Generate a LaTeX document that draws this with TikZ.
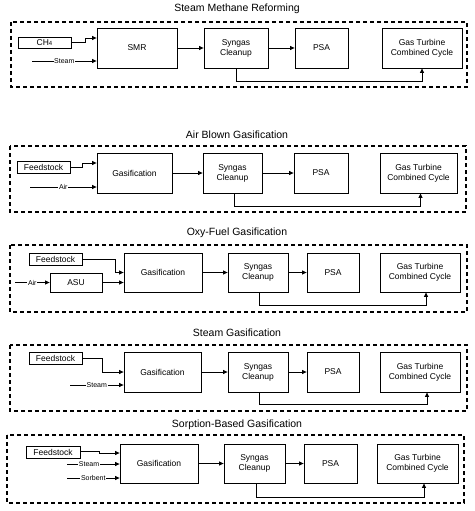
\documentclass[tikz,border=0pt]{standalone}
\usepackage{fontspec}
\setmainfont{Liberation Sans}
\usetikzlibrary{arrows.meta}
\tikzset{
  blk/.style={draw, line width=0.8pt, fill=white, align=center, inner sep=0pt, font=\fontsize{8.5}{10}\selectfont},
  arr/.style={-{Triangle[length=4.5pt,width=4pt]}, line width=0.8pt},
  ln/.style={line width=0.8pt},
  frm/.style={draw, line width=1.4pt, dash pattern=on 4pt off 3pt},
  lbl/.style={fill=white, inner sep=0.6pt, font=\fontsize{7}{7.5}\selectfont},
  ttl/.style={font=\fontsize{10.5}{12}\selectfont, inner sep=0pt}
}
\begin{document}
\begin{tikzpicture}[x=1pt,y=-1pt]
\useasboundingbox (0,0) rectangle (474,511);

% ---------- Panel 1: Steam Methane Reforming ----------
\node[ttl] (t1) at (237,9) {Steam Methane Reforming};
\draw[frm] (11,22) rectangle (467,87);
\node[blk, minimum width=53pt, minimum height=11pt] (ch4) at (44.5,42.5) {CH{\fontsize{6}{7}\selectfont 4}};
\node[blk, minimum width=80pt, minimum height=40pt] (smr) at (137,48) {SMR};
\node[blk, minimum width=64pt, minimum height=40pt] (syn1) at (236,48) {Syngas\\Cleanup};
\node[blk, minimum width=53pt, minimum height=40pt] (psa1) at (321.5,48) {PSA};
\node[blk, minimum width=80pt, minimum height=40pt] (gt1) at (422,48) {Gas Turbine\\Combined Cycle};
\coordinate (s1) at (32,61);
\draw[arr] (ch4.east) -- ++(14,0) |- ([yshift=10pt]smr.west);
\draw[arr] (s1) -- node[lbl]{Steam} (smr.west|-s1);
\draw[arr] (smr) -- (syn1);
\draw[arr] (syn1) -- (psa1);
\draw[arr] (syn1.south) -- ++(0,13) -| (gt1.south);

% ---------- Panel 2: Air Blown Gasification ----------
\node[ttl] (t2) at (237,135) {Air Blown Gasification};
\draw[frm] (10,146) rectangle (466,212);
\node[blk, minimum width=53pt, minimum height=12pt] (feed2) at (43.5,167) {Feedstock};
\node[blk, minimum width=75pt, minimum height=40pt] (gas2) at (134.5,173) {Gasification};
\node[blk, minimum width=59pt, minimum height=40pt] (syn2) at (232.5,173) {Syngas\\Cleanup};
\node[blk, minimum width=54pt, minimum height=40pt] (psa2) at (321,173) {PSA};
\node[blk, minimum width=77pt, minimum height=40pt] (gt2) at (418.5,173) {Gas Turbine\\Combined Cycle};
\coordinate (a2) at (30,187);
\draw[arr] (feed2.east) -- ++(12,0) |- ([yshift=10pt]gas2.west);
\draw[arr] (a2) -- node[lbl]{Air} (gas2.west|-a2);
\draw[arr] (gas2) -- (syn2);
\draw[arr] (syn2) -- (psa2);
\draw[arr] ([xshift=2pt]syn2.south) -- ++(0,13) -| ([xshift=2pt]gt2.south);

% ---------- Panel 3: Oxy-Fuel Gasification ----------
\node[ttl] (t3) at (237,233) {Oxy-Fuel Gasification};
\draw[frm] (10,245) rectangle (467,312);
\node[blk, minimum width=53pt, minimum height=12pt] (feed3) at (55.5,259) {Feedstock};
\node[blk, minimum width=52pt, minimum height=19pt] (asu) at (76,282.5) {ASU};
\node[blk, minimum width=78pt, minimum height=39pt] (gas3) at (163,272.5) {Gasification};
\node[blk, minimum width=60pt, minimum height=39pt] (syn3) at (258,272.5) {Syngas\\Cleanup};
\node[blk, minimum width=52pt, minimum height=39pt] (psa3) at (333,272.5) {PSA};
\node[blk, minimum width=80pt, minimum height=39pt] (gt3) at (420,272.5) {Gas Turbine\\Combined Cycle};
\coordinate (a3) at (15,282.5);
\draw[arr] (feed3.east) -- ++(33,0) |- (gas3.west);
\draw[arr] (a3) -- node[lbl]{Air} (asu.west);
\draw[arr] (asu.east) -- (gas3.west|-asu.east);
\draw[arr] (gas3) -- (syn3);
\draw[arr] (syn3) -- (psa3);
\draw[arr] ([xshift=1pt]syn3.south) -- ++(0,13) -| ([xshift=6pt]gt3.south);

% ---------- Panel 4: Steam Gasification ----------
\node[ttl] (t4) at (237,333) {Steam Gasification};
\draw[frm] (10,345) rectangle (467,411);
\node[blk, minimum width=53pt, minimum height=12pt] (feed4) at (55.5,358) {Feedstock};
\node[blk, minimum width=77pt, minimum height=40pt] (gas4) at (162.5,372) {Gasification};
\node[blk, minimum width=60pt, minimum height=40pt] (syn4) at (258,372) {Syngas\\Cleanup};
\node[blk, minimum width=52pt, minimum height=40pt] (psa4) at (333,372) {PSA};
\node[blk, minimum width=80pt, minimum height=40pt] (gt4) at (420,372) {Gas Turbine\\Combined Cycle};
\coordinate (s4) at (70,385);
\draw[arr] (feed4.east) -- ++(20,0) |- (gas4.west);
\draw[arr] (s4) -- node[lbl]{Steam} (gas4.west|-s4);
\draw[arr] (gas4) -- (syn4);
\draw[arr] (syn4) -- (psa4);
\draw[arr] ([xshift=1pt]syn4.south) -- ++(0,12) -| ([xshift=7pt]gt4.south);

% ---------- Panel 5: Sorption-Based Gasification ----------
\node[ttl] (t5) at (237,425) {Sorption-Based Gasification};
\draw[frm] (7,435) rectangle (464,503);
\node[blk, minimum width=54pt, minimum height=12pt] (feed5) at (53,452) {Feedstock};
\node[blk, minimum width=78pt, minimum height=39pt] (gas5) at (159,463.5) {Gasification};
\node[blk, minimum width=61pt, minimum height=39pt] (syn5) at (254.5,463.5) {Syngas\\Cleanup};
\node[blk, minimum width=53pt, minimum height=39pt] (psa5) at (330.5,463.5) {PSA};
\node[blk, minimum width=81pt, minimum height=39pt] (gt5) at (417.5,463.5) {Gas Turbine\\Combined Cycle};
\coordinate (s5) at (67,464);
\coordinate (b5) at (67,478);
\draw[arr] ([yshift=1pt]feed5.east) -- ++(19,0) |- ([yshift=10.5pt]gas5.west);
\draw[arr] (s5) -- node[lbl, pos=0.42]{Steam} (gas5.west|-s5);
\draw[arr] (b5) -- node[lbl, pos=0.5]{Sorbent} (gas5.west|-b5);
\draw[arr] (gas5) -- (syn5);
\draw[arr] (syn5) -- (psa5);
\draw[arr] ([xshift=1.5pt]syn5.south) -- ++(0,14) -| ([xshift=6.5pt]gt5.south);
\end{tikzpicture}
\end{document}
